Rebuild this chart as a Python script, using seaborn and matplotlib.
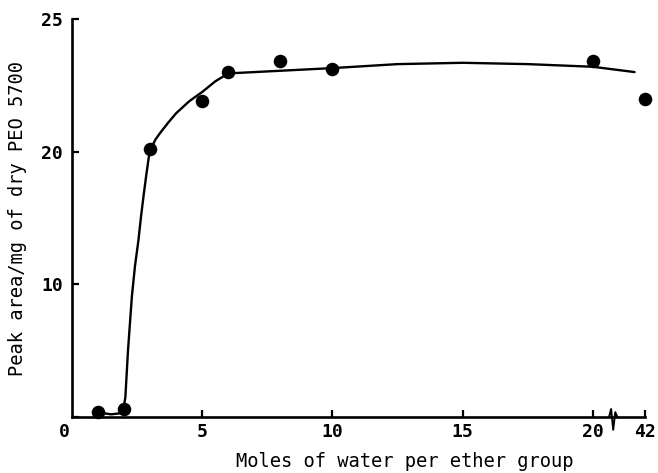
import numpy as np
import pandas as pd
import matplotlib
matplotlib.use("Agg")
import matplotlib.pyplot as plt
import matplotlib.transforms as mtransforms
import seaborn as sns

# Measured points: moles of water per ether group vs. peak area per mg of dry PEO 5700
water_moles = [1.0, 2.0, 3.0, 5.0, 6.0, 8.0, 10.0, 20.0, 22.0]   # 22.0 is drawn past the break, labelled 42
peak_area = [0.4, 0.6, 20.1, 21.9, 23.0, 23.4, 23.1, 23.4, 22.0]

# Hand-drawn trend line through the points
curve_x = [1.0, 1.5, 1.95, 2.05, 2.15, 2.3, 2.42, 2.55, 2.65, 2.75, 2.85, 2.95,
           3.05, 3.2, 3.38, 3.7, 4.0, 4.5, 5.0, 5.5, 6.0, 8.0, 10.0, 12.5,
           15.0, 17.5, 20.0, 21.6]
curve_y = [0.35, 0.2, 0.3, 1.5, 5.0, 9.1, 11.4, 13.3, 15.1, 16.7, 18.2, 19.6,
           20.15, 20.45, 20.7, 21.1, 21.45, 21.9, 22.25, 22.65, 22.95, 23.05, 23.15, 23.3,
           23.35, 23.3, 23.2, 23.0]

x_ticks = [5, 10, 15, 20, 22]
x_tick_labels = ["5", "10", "15", "20", "42"]
y_ticks = [0, 10, 20, 25]
y_tick_labels = ["", "10", "20", "25"]

points = pd.DataFrame({"water": water_moles, "area": peak_area})
curve = pd.DataFrame({"water": curve_x, "area": curve_y})

sns.set_style("white")
plt.rcParams["font.family"] = ["DejaVu Sans Mono", "DejaVu Sans"]
plt.rcParams["text.color"] = "black"
plt.rcParams["axes.labelcolor"] = "black"

fig = plt.figure(figsize=(6.58, 4.73), dpi=100)
ax = fig.add_axes([0.1094, 0.1184, 0.8708, 0.8414])

# Axis above 20 is stretched to twice the scale of the lower part
def _fwd(y):
    y = np.asarray(y, dtype=float)
    return np.where(y <= 20, y, 20 + 2 * (y - 20))

def _inv(v):
    v = np.asarray(v, dtype=float)
    return np.where(v <= 20, v, 20 + (v - 20) / 2)

ax.set_yscale("function", functions=(_fwd, _inv))

sns.lineplot(data=curve, x="water", y="area", sort=False, estimator=None,
             color="black", linewidth=1.7, ax=ax)
sns.scatterplot(data=points, x="water", y="area", color="black", s=95,
                edgecolor="black", linewidth=0, ax=ax, clip_on=False, zorder=5)

ax.set_xlim(0, 22)
ax.set_ylim(0, 25)

for side in ("top", "right"):
    ax.spines[side].set_visible(False)
for side in ("left", "bottom"):
    ax.spines[side].set_linewidth(1.9)
    ax.spines[side].set_color("black")

ax.set_xticks(x_ticks)
ax.set_xticklabels(x_tick_labels)
ax.set_yticks(y_ticks)
ax.set_yticklabels(y_tick_labels)
ax.tick_params(axis="both", direction="in", length=5, width=1.6, color="black",
               labelsize=13, labelcolor="black", bottom=True, left=True)
ax.tick_params(axis="x", pad=4.5)
ax.tick_params(axis="y", pad=6.5)
for lab in ax.get_xticklabels() + ax.get_yticklabels():
    lab.set_fontweight("bold")

# origin label sits just left of the corner
ax.text(0, 0, "0", transform=ax.transData + mtransforms.ScaledTranslation(-8 / 100, -4.5 / 72, fig.dpi_scale_trans),
        ha="center", va="top", fontsize=13, fontweight="bold")

# break mark on the x axis between 20 and 42
brk = mtransforms.blended_transform_factory(ax.transData, ax.transAxes)
ax.plot([20.62, 20.70, 20.78, 20.86, 20.94], [0.0, 0.02, -0.032, 0.012, 0.0],
        color="black", linewidth=1.4, transform=brk, clip_on=False)

ax.set_xlabel("Moles of water per ether group", fontsize=13.5)
ax.set_ylabel("Peak area/mg of dry PEO 5700", fontsize=13.5)
ax.xaxis.set_label_coords(0.581, -0.088)
ax.yaxis.set_label_coords(-0.079, 0.5)

fig.savefig("out.png", dpi=100)
